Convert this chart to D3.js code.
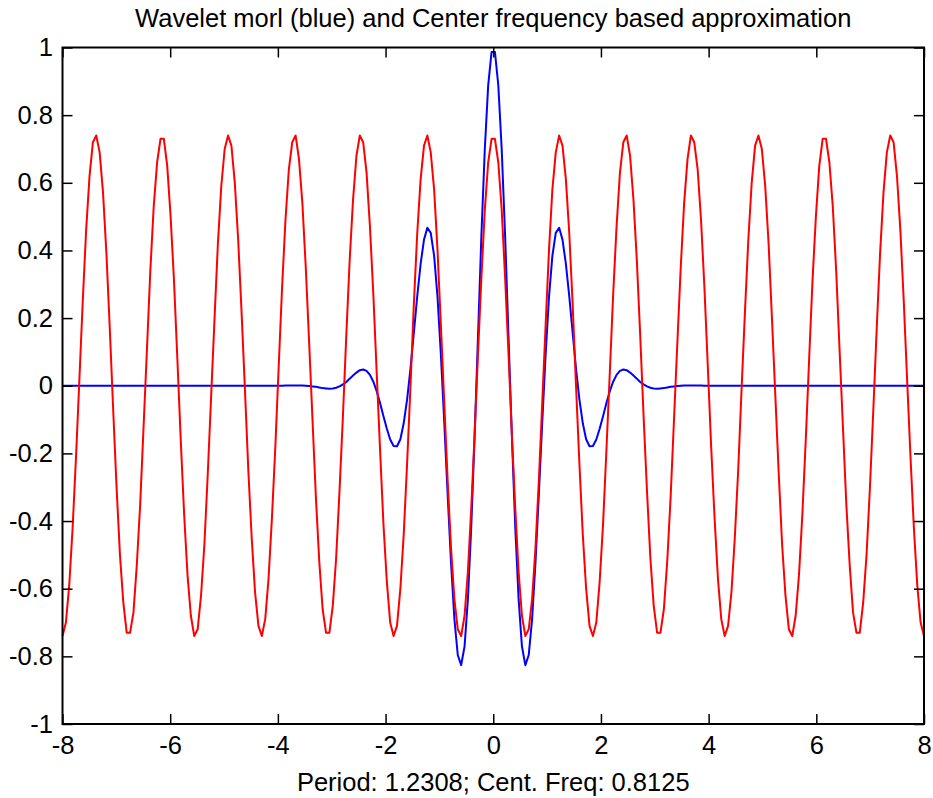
<!DOCTYPE html>
<html>
<head>
<meta charset="utf-8">
<script src="https://cdn.jsdelivr.net/npm/d3@7"></script>
<style>
  body { margin: 0; background: #fff; }
  text { font-family: "Liberation Sans", Arial, sans-serif; }
</style>
</head>
<body>
<script>
// sample positions of the wavelet (256 points from -8 to 8)
const sampleX = [
  -8.000,-7.937,-7.875,-7.812,-7.749,-7.686,-7.624,-7.561,-7.498,-7.435,
  -7.373,-7.310,-7.247,-7.184,-7.122,-7.059,-6.996,-6.933,-6.871,-6.808,
  -6.745,-6.682,-6.620,-6.557,-6.494,-6.431,-6.369,-6.306,-6.243,-6.180,
  -6.118,-6.055,-5.992,-5.929,-5.867,-5.804,-5.741,-5.678,-5.616,-5.553,
  -5.490,-5.427,-5.365,-5.302,-5.239,-5.176,-5.114,-5.051,-4.988,-4.925,
  -4.863,-4.800,-4.737,-4.675,-4.612,-4.549,-4.486,-4.424,-4.361,-4.298,
  -4.235,-4.173,-4.110,-4.047,-3.984,-3.922,-3.859,-3.796,-3.733,-3.671,
  -3.608,-3.545,-3.482,-3.420,-3.357,-3.294,-3.231,-3.169,-3.106,-3.043,
  -2.980,-2.918,-2.855,-2.792,-2.729,-2.667,-2.604,-2.541,-2.478,-2.416,
  -2.353,-2.290,-2.227,-2.165,-2.102,-2.039,-1.976,-1.914,-1.851,-1.788,
  -1.725,-1.663,-1.600,-1.537,-1.475,-1.412,-1.349,-1.286,-1.224,-1.161,
  -1.098,-1.035,-0.973,-0.910,-0.847,-0.784,-0.722,-0.659,-0.596,-0.533,
  -0.471,-0.408,-0.345,-0.282,-0.220,-0.157,-0.094,-0.031,
  0.031,0.094,0.157,0.220,0.282,0.345,0.408,0.471,
  0.533,0.596,0.659,0.722,0.784,0.847,0.910,0.973,1.035,1.098,
  1.161,1.224,1.286,1.349,1.412,1.475,1.537,1.600,1.663,1.725,
  1.788,1.851,1.914,1.976,2.039,2.102,2.165,2.227,2.290,2.353,
  2.416,2.478,2.541,2.604,2.667,2.729,2.792,2.855,2.918,2.980,
  3.043,3.106,3.169,3.231,3.294,3.357,3.420,3.482,3.545,3.608,
  3.671,3.733,3.796,3.859,3.922,3.984,4.047,4.110,4.173,4.235,
  4.298,4.361,4.424,4.486,4.549,4.612,4.675,4.737,4.800,4.863,
  4.925,4.988,5.051,5.114,5.176,5.239,5.302,5.365,5.427,5.490,
  5.553,5.616,5.678,5.741,5.804,5.867,5.929,5.992,6.055,6.118,
  6.180,6.243,6.306,6.369,6.431,6.494,6.557,6.620,6.682,6.745,
  6.808,6.871,6.933,6.996,7.059,7.122,7.184,7.247,7.310,7.373,
  7.435,7.498,7.561,7.624,7.686,7.749,7.812,7.875,7.937,8.000
];

// blue: morl wavelet
const morlValues = [
  0,0,0,0,0,0,0,0,0,0,0,0,0,0,0,0,
  0,0,0,0,0,0,0,0,0,0,0,0,0,0,0,0,
  0,0,0,0,0,0,0,0,0,0,0,0,0,0,0,0,
  0,0,0,0,0,0,0,0,0,0,0,0,0,0,0,0,
  0.000,0.000,0.001,0.001,0.001,0.001,
  0.001,0.001,0.000,-0.001,-0.002,-0.003,-0.005,-0.007,-0.008,-0.009,
  -0.008,-0.006,-0.002,0.004,0.011,0.021,0.030,0.039,0.046,0.048,
  0.044,0.032,0.012,-0.016,-0.051,-0.090,-0.127,-0.159,-0.178,-0.179,
  -0.158,-0.111,-0.040,0.051,0.156,0.264,0.360,0.432,0.467,0.452,
  0.384,0.262,0.093,-0.108,-0.321,-0.523,-0.689,-0.796,-0.826,-0.771,
  -0.631,-0.415,-0.145,0.152,0.445,0.699,0.888,0.987,
  0.987,0.888,0.699,0.445,0.152,-0.145,-0.415,-0.631,
  -0.771,-0.826,-0.796,-0.689,-0.523,-0.321,-0.108,0.093,0.262,0.384,
  0.452,0.467,0.432,0.360,0.264,0.156,0.051,-0.040,-0.111,-0.158,
  -0.179,-0.178,-0.159,-0.127,-0.090,-0.051,-0.016,0.012,0.032,0.044,
  0.048,0.046,0.039,0.030,0.021,0.011,0.004,-0.002,-0.006,-0.008,
  -0.009,-0.008,-0.007,-0.005,-0.003,-0.002,-0.001,0.000,0.001,0.001,
  0.001,0.001,0.001,0.001,0.000,0.000,
  0,0,0,0,0,0,0,0,0,0,0,0,0,0,0,0,
  0,0,0,0,0,0,0,0,0,0,0,0,0,0,0,0,
  0,0,0,0,0,0,0,0,0,0,0,0,0,0,0,0,
  0,0,0,0,0,0,0,0,0,0,0,0,0,0,0,0
];

// red: center frequency based approximation
const approxValues = [
  -0.74,-0.70,-0.59,-0.42,-0.21,0.02,0.25,0.46,0.62,0.72,
  0.74,0.69,0.57,0.39,0.17,-0.07,-0.30,-0.50,-0.64,-0.73,
  -0.73,-0.67,-0.53,-0.35,-0.12,0.11,0.34,0.53,0.66,0.73,
  0.73,0.65,0.50,0.31,0.08,-0.16,-0.38,-0.56,-0.68,-0.74,
  -0.72,-0.62,-0.47,-0.26,-0.03,0.20,0.42,0.59,0.70,0.74,
  0.71,0.60,0.43,0.22,-0.01,-0.25,-0.45,-0.61,-0.71,-0.74,
  -0.69,-0.57,-0.39,-0.18,0.06,0.29,0.49,0.64,0.72,0.74,
  0.67,0.54,0.35,0.13,-0.10,-0.33,-0.52,-0.66,-0.73,-0.73,
  -0.65,-0.51,-0.31,-0.09,0.15,0.37,0.55,0.68,0.74,0.72,
  0.63,0.47,0.27,0.04,-0.19,-0.41,-0.58,-0.70,-0.74,-0.71,
  -0.60,-0.44,-0.23,0.00,0.24,0.45,0.61,0.71,0.74,0.69,
  0.58,0.40,0.18,-0.05,-0.28,-0.48,-0.63,-0.72,-0.74,-0.68,
  -0.55,-0.36,-0.14,0.10,0.32,0.52,0.66,0.73,
  0.73,0.66,0.52,0.32,0.10,-0.14,-0.36,-0.55,
  -0.68,-0.74,-0.72,-0.63,-0.48,-0.28,-0.05,0.18,0.40,0.58,
  0.69,0.74,0.71,0.61,0.45,0.24,0.00,-0.23,-0.44,-0.60,
  -0.71,-0.74,-0.70,-0.58,-0.41,-0.19,0.04,0.27,0.47,0.63,
  0.72,0.74,0.68,0.55,0.37,0.15,-0.09,-0.31,-0.51,-0.65,
  -0.73,-0.73,-0.66,-0.52,-0.33,-0.10,0.13,0.35,0.54,0.67,
  0.74,0.72,0.64,0.49,0.29,0.06,-0.18,-0.39,-0.57,-0.69,
  -0.74,-0.71,-0.61,-0.45,-0.25,-0.01,0.22,0.43,0.60,0.71,
  0.74,0.70,0.59,0.42,0.20,-0.03,-0.26,-0.47,-0.62,-0.72,
  -0.74,-0.68,-0.56,-0.38,-0.16,0.08,0.31,0.50,0.65,0.73,
  0.73,0.66,0.53,0.34,0.11,-0.12,-0.35,-0.53,-0.67,-0.73,
  -0.73,-0.64,-0.50,-0.30,-0.07,0.17,0.39,0.57,0.69,0.74,
  0.72,0.62,0.46,0.25,0.02,-0.21,-0.42,-0.59,-0.70,-0.74
];

const xTicks = [-8, -6, -4, -2, 0, 2, 4, 6, 8];
const xTickLabels = ["-8", "-6", "-4", "-2", "0", "2", "4", "6", "8"];
const yTicks = [-1, -0.8, -0.6, -0.4, -0.2, 0, 0.2, 0.4, 0.6, 0.8, 1];
const yTickLabels = ["-1", "-0.8", "-0.6", "-0.4", "-0.2", "0", "0.2", "0.4", "0.6", "0.8", "1"];

const titleText = "Wavelet morl (blue) and Center frequency based approximation";
const xLabelText = "Period: 1.2308; Cent. Freq: 0.8125";

const width = 933;
const height = 798;
const margin = { top: 47.5, right: 9, bottom: 74, left: 62.5 };
const innerW = width - margin.left - margin.right;
const innerH = height - margin.top - margin.bottom;
const fontSize = 25.5;

const svg = d3
  .select("body")
  .append("svg")
  .attr("width", width)
  .attr("height", height);

const g = svg
  .append("g")
  .attr("transform", `translate(${margin.left}, ${margin.top})`);

const x = d3.scaleLinear().domain([-8, 8]).range([0, innerW]);
const y = d3.scaleLinear().domain([-1, 1]).range([innerH, 0]);

const line = d3
  .line()
  .x((d) => x(d[0]))
  .y((d) => y(d[1]));

// blue first, red is drawn over it
g.append("path")
  .datum(d3.zip(sampleX, morlValues))
  .attr("fill", "none")
  .attr("stroke", "#0000ff")
  .attr("stroke-width", 2)
  .attr("stroke-linejoin", "round")
  .attr("d", line);

g.append("path")
  .datum(d3.zip(sampleX, approxValues))
  .attr("fill", "none")
  .attr("stroke", "#ff0000")
  .attr("stroke-width", 2)
  .attr("stroke-linejoin", "round")
  .attr("d", line);

// axes, ticks point inside on all four sides
const styleAxis = (sel) => {
  sel.select(".domain").remove();
  sel.selectAll(".tick line").attr("stroke", "#000").attr("stroke-width", 1.5);
  sel
    .selectAll(".tick text")
    .attr("fill", "#000")
    .style("font-size", fontSize + "px")
    .style("font-family", '"Liberation Sans", Arial, sans-serif');
};

g.append("g")
  .attr("transform", `translate(0, ${innerH})`)
  .call(
    d3.axisBottom(x)
      .tickValues(xTicks)
      .tickFormat((d, i) => xTickLabels[i])
      .tickSize(-10)
      .tickPadding(12)
  )
  .call(styleAxis);

g.append("g")
  .call(
    d3.axisTop(x).tickValues(xTicks).tickFormat("").tickSize(-10)
  )
  .call(styleAxis);

g.append("g")
  .call(
    d3.axisLeft(y)
      .tickValues(yTicks)
      .tickFormat((d, i) => yTickLabels[i])
      .tickSize(-10)
      .tickPadding(9.5)
  )
  .call(styleAxis);

g.append("g")
  .attr("transform", `translate(${innerW}, 0)`)
  .call(
    d3.axisRight(y).tickValues(yTicks).tickFormat("").tickSize(-10)
  )
  .call(styleAxis);

// box
g.append("rect")
  .attr("width", innerW)
  .attr("height", innerH)
  .attr("fill", "none")
  .attr("stroke", "#000")
  .attr("stroke-width", 2);

// title and x label
svg
  .append("text")
  .attr("x", margin.left + innerW / 2)
  .attr("y", 27)
  .attr("text-anchor", "middle")
  .style("font-size", fontSize + "px")
  .text(titleText);

svg
  .append("text")
  .attr("x", margin.left + innerW / 2)
  .attr("y", 791)
  .attr("text-anchor", "middle")
  .style("font-size", fontSize + "px")
  .text(xLabelText);
</script>
</body>
</html>
